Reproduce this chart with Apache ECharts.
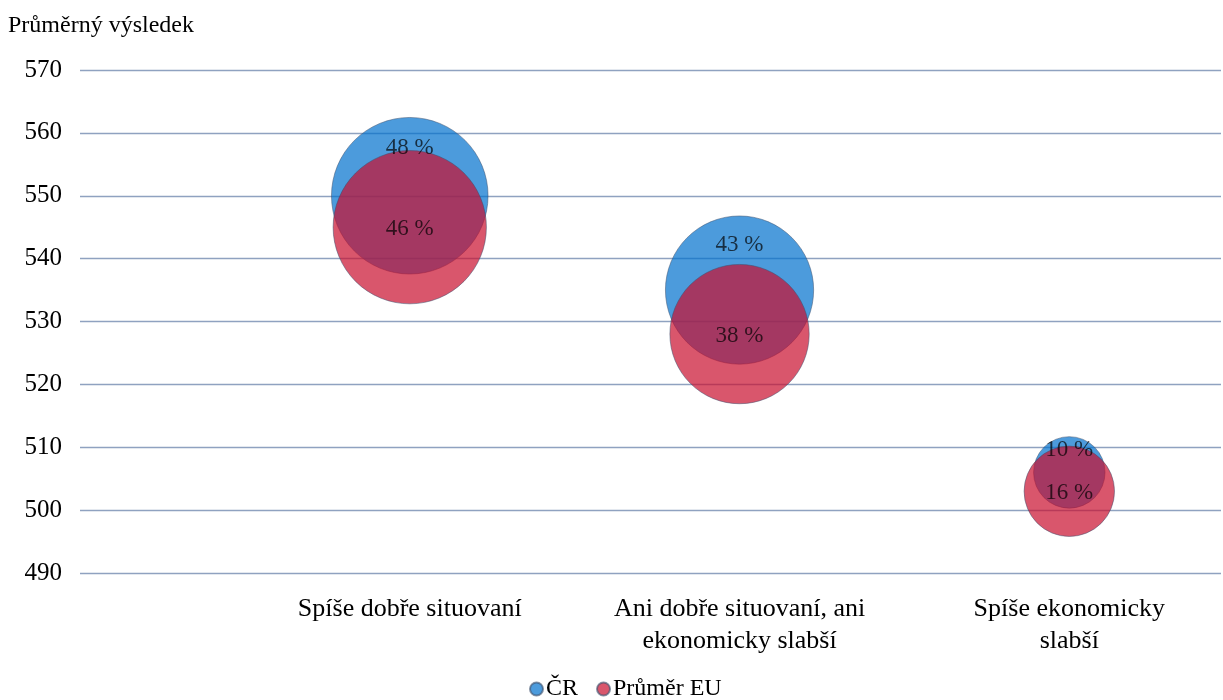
<!DOCTYPE html>
<html><head><meta charset="utf-8">
<script src="https://cdn.jsdelivr.net/npm/echarts@6/dist/echarts.min.js"></script>
<style>html,body{margin:0;padding:0;background:#fff}#c{width:1223px;height:700px}</style>
</head><body><div id="c"></div>
<script>
var categories = ['Spíše dobře situovaní', 'Ani dobře situovaní, ani\nekonomicky slabší', 'Spíše ekonomicky\nslabší'];
var seriesNames = ['ČR', 'Průměr EU'];
var crScores = [550, 535, 506];
var crShares = [48, 43, 10];
var euScores = [545, 528, 503];
var euShares = [46, 38, 16];
var yTicks = [490, 500, 510, 520, 530, 540, 550, 560, 570];

var K = 11.3;
function diam(v){ return 2 * K * Math.sqrt(v); }
function build(scores, shares, top){
  return scores.map(function(s, i){
    var r = diam(shares[i]) / 2;
    return {
      value: [i + 1, s, shares[i]],
      label: { offset: [0, top ? -(0.6 * r + 1) : 2] }
    };
  });
}
var font = 'Liberation Serif, Times New Roman, serif';
var chart = echarts.init(document.getElementById('c'));
var labelCfg = { show: true, position: 'inside', color: '#000', fontFamily: font, fontSize: 23,
  formatter: function(p){ return p.value[2] + ' %'; } };
chart.setOption({
  animation: false,
  title: { text: 'Průměrný výsledek', left: 8, top: 14, padding: 0,
    textStyle: { fontFamily: font, fontSize: 24, fontWeight: 'normal', color: '#000' } },
  grid: { left: 80, right: 2, top: 70, bottom: 127 },
  legend: { top: 672, left: 524, icon: 'circle', itemWidth: 13, itemHeight: 13, itemGap: 18,
    data: seriesNames,
    textStyle: { fontFamily: font, fontSize: 24, color: '#000', padding: [0, 0, 0, -2] } },
  xAxis: { type: 'value', min: 0, max: 3.46, interval: 1,
    splitLine: { show: false }, axisTick: { show: false },
    axisLine: { show: false },
    axisLabel: { showMaxLabel: false, margin: 20, color: '#000', fontFamily: font, fontSize: 26, lineHeight: 32,
      formatter: function(v){ return (v >= 1 && v <= 3 && v === Math.round(v)) ? categories[v - 1] : ''; } } },
  yAxis: { type: 'value', min: yTicks[0], max: yTicks[yTicks.length - 1], interval: 10,
    axisLine: { show: false }, axisTick: { show: false },
    splitLine: { lineStyle: { color: '#8fa2c0', width: 1.3 } },
    axisLabel: { margin: 18, color: '#000', fontFamily: font, fontSize: 25 } },
  series: [
    { name: seriesNames[0], type: 'scatter', data: build(crScores, crShares, true),
      symbolSize: function(v){ return diam(v[2]); },
      itemStyle: { color: 'rgb(0,112,205)', opacity: 0.7, borderColor: 'rgba(60,80,110,0.9)', borderWidth: 0.8 },
      label: labelCfg },
    { name: seriesNames[1], type: 'scatter', data: build(euScores, euShares, false),
      symbolSize: function(v){ return diam(v[2]); },
      itemStyle: { color: 'rgb(201,14,45)', opacity: 0.7, borderColor: 'rgba(60,80,110,0.9)', borderWidth: 0.8 },
      label: labelCfg }
  ]
});
</script></body></html>
